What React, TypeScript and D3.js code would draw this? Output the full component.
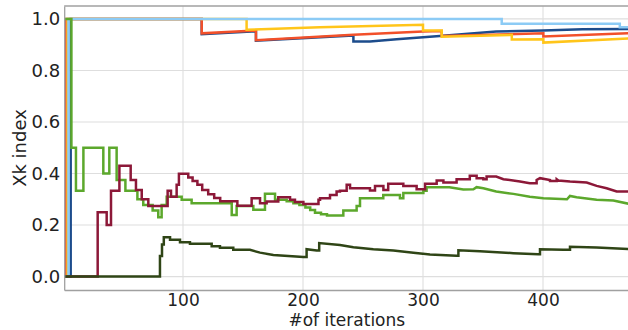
import React, { useEffect, useRef } from "react";
import * as d3 from "d3";

const W = 628;
const H = 330;
const plot = { left: 64.2, right: 629.4, top: 6, bottom: 290 };

const xTicks = [100, 200, 300, 400];
const yTicks = [0, 0.2, 0.4, 0.6, 0.8, 1.0];

// [iteration, Xk index] ; repeated iterations are vertical jumps
const darkBlue: [number, number][] = [
  [1, 0], [6.4, 0], [6.4, 1], [115.6, 1], [115.6, 0.941], [160.8, 0.952], [160.8, 0.915],
  [242, 0.936], [242, 0.912], [255.8, 0.912], [278, 0.921], [314, 0.934], [361, 0.951],
  [400, 0.955], [433, 0.96], [472, 0.961],
];
const orangeRed: [number, number][] = [
  [1, 0], [2.5, 0], [2.5, 1], [115.6, 1], [115.6, 0.944], [160.8, 0.955], [160.8, 0.917],
  [242, 0.938], [300, 0.951], [315.6, 0.953], [315.6, 0.934], [400.3, 0.944], [400.3, 0.932],
  [472, 0.944],
];
const gold: [number, number][] = [
  [1, 0], [3.8, 0], [3.8, 1], [153, 1], [153, 0.958], [214, 0.968], [300, 0.977], [300, 0.955],
  [315.6, 0.955], [315.6, 0.931], [374, 0.938], [374, 0.92], [400.3, 0.921], [400.3, 0.908],
  [472, 0.924],
];
const lightBlue: [number, number][] = [
  [1, 0], [4.6, 0], [4.6, 1], [365.6, 1], [365.6, 0.981], [464, 0.981], [464, 0.968], [472, 0.968],
];
const green: [number, number][] = [
  [1, 1], [7, 1], [7, 0.5], [10.8, 0.5], [10.8, 0.333], [17, 0.333], [17, 0.5], [33.6, 0.5],
  [33.6, 0.4], [38.6, 0.4], [38.6, 0.5], [44.7, 0.5], [44.7, 0.375], [52, 0.375], [52, 0.333],
  [62, 0.333], [62, 0.3], [66.9, 0.3], [66.9, 0.278], [74.7, 0.278], [74.7, 0.256], [79.4, 0.256],
  [79.4, 0.23], [82.2, 0.23], [82.2, 0.278], [86.4, 0.278], [86.4, 0.31], [98.9, 0.31],
  [98.9, 0.298], [107.2, 0.298], [107.2, 0.285], [140.6, 0.285], [140.6, 0.239], [144.7, 0.239],
  [144.7, 0.274], [158.6, 0.274], [158.6, 0.259], [168.3, 0.259], [168.3, 0.321], [176.7, 0.321],
  [176.7, 0.298], [186.4, 0.298], [186.4, 0.292], [192, 0.292], [192, 0.285], [197, 0.285],
  [197, 0.278], [202, 0.278], [202, 0.268], [206, 0.268], [206, 0.258], [210, 0.258],
  [210, 0.248], [215, 0.248], [215, 0.242], [220, 0.242], [220, 0.237], [233.6, 0.237],
  [233.6, 0.256], [244.7, 0.256], [244.7, 0.274], [247.5, 0.274], [247.5, 0.304], [266.9, 0.304],
  [266.9, 0.317], [280.8, 0.317], [280.8, 0.304], [283.6, 0.304], [283.6, 0.324], [300.3, 0.324],
  [300.3, 0.333], [303, 0.333], [303, 0.347], [322, 0.347], [333.6, 0.338], [342, 0.339],
  [344.7, 0.347], [350.3, 0.343], [361, 0.33], [375.3, 0.321], [389, 0.31], [400.3, 0.304],
  [420, 0.3], [422.5, 0.313], [428, 0.308], [444.7, 0.298], [458.6, 0.295], [472, 0.282],
];
const maroon: [number, number][] = [
  [1, 0], [28.9, 0], [28.9, 0.25], [36.4, 0.25], [36.4, 0.2], [40, 0.2], [40, 0.333], [47, 0.333],
  [47, 0.43], [56.4, 0.43], [56.4, 0.375], [60.8, 0.375], [60.8, 0.336], [65.6, 0.336],
  [65.6, 0.3], [71.1, 0.3], [71.1, 0.274], [87.2, 0.274], [87.2, 0.333], [90, 0.333], [90, 0.31],
  [94.7, 0.31], [94.7, 0.356], [96.6, 0.356], [96.6, 0.399], [104.4, 0.399], [104.4, 0.385],
  [108, 0.385], [108, 0.371], [112, 0.371], [112, 0.356], [116, 0.356], [116, 0.336],
  [121, 0.336], [121, 0.32], [126, 0.32], [126, 0.305], [131, 0.305], [131, 0.292],
  [145.3, 0.292], [145.3, 0.275], [157.2, 0.275], [157.2, 0.304], [164.2, 0.304], [164.2, 0.285],
  [169.7, 0.285], [169.7, 0.291], [179.4, 0.291], [179.4, 0.308], [189.2, 0.308], [189.2, 0.298],
  [193.3, 0.298], [193.3, 0.289], [200.3, 0.289], [200.3, 0.282], [212.9, 0.282], [212.9, 0.298],
  [214.2, 0.298], [214.2, 0.304], [222.5, 0.304], [222.5, 0.317], [228, 0.317], [228, 0.33],
  [230.8, 0.33], [230.8, 0.333], [236.4, 0.333], [236.4, 0.356], [239.2, 0.356], [239.2, 0.343],
  [255.8, 0.343], [255.8, 0.334], [260, 0.334], [260, 0.352], [267, 0.352], [267, 0.336],
  [271, 0.336], [271, 0.36], [283.6, 0.36], [283.6, 0.352], [294.7, 0.352], [294.7, 0.339],
  [301.7, 0.339], [301.7, 0.36], [311.4, 0.36], [311.4, 0.373], [317, 0.373], [317, 0.365],
  [328, 0.365], [328, 0.378], [339, 0.378], [339, 0.391], [344.7, 0.391], [344.7, 0.382],
  [350.3, 0.382], [350.3, 0.378], [353, 0.378], [353, 0.388], [361, 0.388], [367, 0.378],
  [380.8, 0.369], [389, 0.362], [394.7, 0.362], [394.7, 0.375], [397.5, 0.382], [405.8, 0.375],
  [405.8, 0.371], [411.4, 0.371], [411.4, 0.378], [412.8, 0.373], [422.5, 0.369], [436.4, 0.365],
  [444.7, 0.352], [453, 0.343], [461.4, 0.33], [472, 0.33],
];
const olive: [number, number][] = [
  [1, 0], [80.8, 0], [80.8, 0.08], [82.5, 0.08], [82.5, 0.125], [84, 0.125], [84, 0.153],
  [89.2, 0.153], [89.2, 0.143], [97.5, 0.143], [97.5, 0.133], [105.8, 0.133], [105.8, 0.127],
  [123.9, 0.127], [123.9, 0.118], [130.8, 0.118], [130.8, 0.112], [141.9, 0.112], [141.9, 0.104],
  [155.8, 0.104], [164.2, 0.093], [175.3, 0.084], [200.3, 0.076], [203, 0.076], [203, 0.106],
  [211.4, 0.101], [213.5, 0.101], [213.5, 0.13], [230.8, 0.123], [242, 0.114], [258.6, 0.106],
  [275.3, 0.101], [292, 0.093], [305.8, 0.086], [328, 0.081], [329.5, 0.081], [329.5, 0.102],
  [347.5, 0.098], [375.3, 0.091], [396.1, 0.087], [397.5, 0.087], [397.5, 0.106], [417, 0.104],
  [422.5, 0.104], [422.5, 0.116], [444.7, 0.113], [472, 0.107],
];

const series = [
  { data: darkBlue, color: "#1c4c8c" },
  { data: orangeRed, color: "#f2502a" },
  { data: gold, color: "#ffc51a" },
  { data: lightBlue, color: "#8ccbf5" },
  { data: green, color: "#5ca82c" },
  { data: maroon, color: "#8c1838" },
  { data: olive, color: "#2f4516" },
];

const App = () => {
  const svgRef = useRef<SVGSVGElement>(null);

  useEffect(() => {
    const svg = d3.select(svgRef.current);
    svg.selectAll("*").remove();

    const x = d3.scaleLinear().domain([1, 472]).range([plot.left, plot.right]);
    const y = d3.scaleLinear().domain([-0.052, 1.05]).range([plot.bottom, plot.top]);

    svg.append("defs").append("clipPath").attr("id", "plotclip")
      .append("rect")
      .attr("x", plot.left).attr("y", plot.top)
      .attr("width", plot.right - plot.left).attr("height", plot.bottom - plot.top);

    // grid
    const grid = svg.append("g").attr("stroke", "#dedede").attr("stroke-width", 1.1);
    grid.selectAll(".gx").data(xTicks).join("line")
      .attr("x1", (d) => x(d)).attr("x2", (d) => x(d))
      .attr("y1", plot.top).attr("y2", plot.bottom);
    grid.selectAll(".gy").data(yTicks).join("line")
      .attr("x1", plot.left).attr("x2", plot.right)
      .attr("y1", (d) => y(d)).attr("y2", (d) => y(d));

    const line = d3.line<[number, number]>()
      .x((d) => x(d[0]))
      .y((d) => y(d[1]));

    svg.append("g").attr("clip-path", "url(#plotclip)")
      .selectAll("path").data(series).join("path")
      .attr("d", (s) => line(s.data))
      .attr("fill", "none")
      .attr("stroke", (s) => s.color)
      .attr("stroke-width", 2.5)
      .attr("stroke-linejoin", "miter");

    const xAxis = d3.axisBottom(x).tickValues(xTicks).tickFormat(d3.format("d"))
      .tickSize(0).tickSizeOuter(0).tickPadding(3.5);
    const yAxis = d3.axisLeft(y).tickValues(yTicks).tickFormat(d3.format(".1f"))
      .tickSize(0).tickSizeOuter(0).tickPadding(4);

    const gx = svg.append("g").attr("transform", `translate(0,${plot.bottom})`).call(xAxis);
    const gy = svg.append("g").attr("transform", `translate(${plot.left},0)`).call(yAxis);
    gx.attr("font-family", "DejaVu Sans").attr("font-size", 17);
    gy.attr("font-family", "DejaVu Sans").attr("font-size", 18);
    [gx, gy].forEach((g) => {
      g.select(".domain").attr("stroke", "#a0a0a0").attr("stroke-width", 1.3);
      g.selectAll("text").attr("fill", "#222");
    });

    svg.append("line")
      .attr("x1", plot.left).attr("x2", plot.right)
      .attr("y1", plot.top).attr("y2", plot.top)
      .attr("stroke", "#a0a0a0").attr("stroke-width", 1.3);

    svg.append("text")
      .attr("x", (plot.left + plot.right) / 2).attr("y", 325.5)
      .attr("text-anchor", "middle")
      .attr("font-family", "DejaVu Sans").attr("font-size", 17).attr("fill", "#222")
      .text("#of iterations");

    svg.append("text")
      .attr("transform", `translate(26,${(plot.top + plot.bottom) / 2}) rotate(-90)`)
      .attr("text-anchor", "middle")
      .attr("font-family", "DejaVu Sans").attr("font-size", 18).attr("fill", "#222")
      .text("Xk index");
  }, []);

  return (
    <div style={{ position: "absolute", left: 0, top: 0 }}>
      <svg ref={svgRef} width={W} height={H} style={{ display: "block", background: "#fff" }} />
    </div>
  );
};

export default App;
